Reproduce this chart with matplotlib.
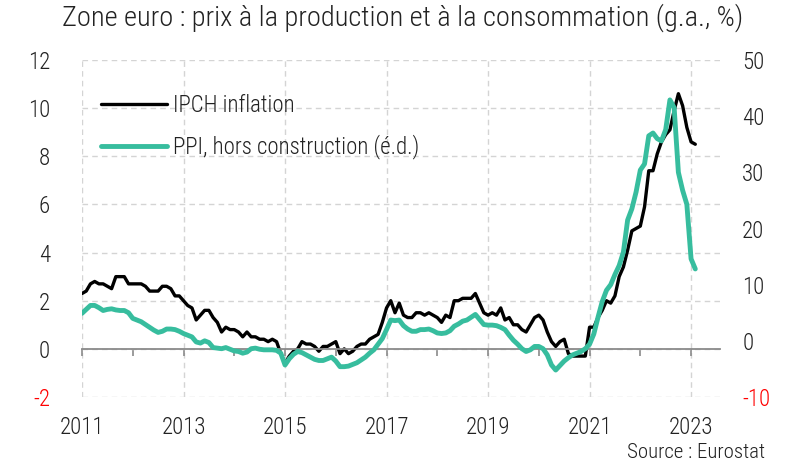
import matplotlib
matplotlib.use('Agg')
import matplotlib.pyplot as plt
from matplotlib.ticker import MultipleLocator, FixedLocator
import numpy as np

# monthly, Jan 2011 .. Feb 2023
start_year = 2011
ipch = [
    2.3, 2.4, 2.7, 2.8, 2.7, 2.7, 2.6, 2.5, 3.0, 3.0, 3.0, 2.7,
    2.7, 2.7, 2.7, 2.6, 2.4, 2.4, 2.4, 2.6, 2.6, 2.5, 2.2, 2.2,
    2.0, 1.8, 1.7, 1.2, 1.4, 1.6, 1.6, 1.3, 1.1, 0.7, 0.9, 0.8,
    0.8, 0.7, 0.5, 0.7, 0.5, 0.5, 0.4, 0.4, 0.3, 0.4, 0.3, -0.2,
    -0.6, -0.3, -0.1, 0.0, 0.3, 0.2, 0.2, 0.1, -0.1, 0.1, 0.1, 0.2,
    0.3, -0.2, 0.0, -0.2, -0.1, 0.1, 0.2, 0.2, 0.4, 0.5, 0.6, 1.1,
    1.7, 2.0, 1.5, 1.9, 1.4, 1.3, 1.3, 1.5, 1.5, 1.4, 1.5, 1.4,
    1.3, 1.1, 1.4, 1.3, 2.0, 2.0, 2.1, 2.1, 2.1, 2.3, 1.9, 1.5,
    1.4, 1.5, 1.4, 1.7, 1.2, 1.3, 1.0, 1.0, 0.8, 0.7, 1.0, 1.3,
    1.4, 1.2, 0.7, 0.3, 0.1, 0.3, 0.4, -0.2, -0.3, -0.3, -0.3, -0.3,
    0.9, 0.9, 1.3, 1.6, 2.0, 1.9, 2.2, 3.0, 3.4, 4.1, 4.9, 5.0,
    5.1, 5.9, 7.4, 7.4, 8.1, 8.6, 8.9, 9.1, 9.9, 10.6, 10.1, 9.2,
    8.6, 8.5,
]
ppi = [
    4.9, 5.6, 6.3, 6.3, 5.9, 5.4, 5.6, 5.7, 5.5, 5.4, 5.4, 5.0,
    4.0, 3.7, 3.4, 2.9, 2.4, 1.9, 1.5, 1.7, 2.1, 2.1, 2.0, 1.7,
    1.3, 1.0, 0.7, -0.2, -0.4, 0.0, -0.3, -1.2, -1.3, -1.4, -1.2, -1.5,
    -1.8, -1.9, -2.2, -2.0, -1.4, -1.3, -1.5, -1.6, -1.6, -1.6, -1.7, -2.2,
    -4.3, -3.2, -2.4, -1.9, -2.1, -2.5, -2.9, -3.3, -3.5, -3.5, -3.2, -2.9,
    -3.6, -4.6, -4.6, -4.5, -4.2, -3.9, -3.4, -2.9, -2.2, -1.6, -0.6, 0.4,
    2.0, 3.7, 3.6, 3.7, 2.7, 2.1, 1.7, 1.7, 2.0, 2.0, 2.1, 1.8,
    1.4, 1.3, 1.4, 1.8, 2.6, 3.0, 3.5, 3.7, 4.2, 4.7, 3.8, 2.9,
    2.8, 2.8, 2.7, 2.4, 2.0, 1.0, 0.1, -0.6, -1.4, -1.9, -1.6, -1.0,
    -1.0, -1.4, -2.5, -4.3, -5.2, -4.4, -3.6, -3.0, -2.5, -2.2, -1.9, -1.4,
    -0.6, 1.2, 4.2, 7.0, 9.0, 10.0, 11.8, 13.4, 15.8, 21.5, 23.5, 26.5,
    30.4, 31.5, 36.5, 37.0, 36.0, 35.6, 37.6, 42.9, 41.5, 30.0, 26.8, 24.3,
    14.6, 12.8,
]
x_labels = ['2011', '2013', '2015', '2017', '2019', '2021', '2023']
left_ticks = [-2, 0, 2, 4, 6, 8, 10, 12]
right_ticks = [-10, 0, 10, 20, 30, 40, 50]

title = 'Zone euro : prix à la production et à la consommation (g.a., %)'
label_ipch = 'IPCH inflation'
label_ppi = 'PPI, hors construction (é.d.)'
source = 'Source : Eurostat'

teal = '#37bd9e'
grid_c = '#d4d4d4'
axis_c = '#8a8a8a'
text_c = '#222222'

plt.rcParams['font.family'] = ['Roboto Condensed', 'Liberation Sans Narrow', 'DejaVu Sans']
plt.rcParams['font.stretch'] = 'condensed'
plt.rcParams['font.weight'] = 'light'
fs = 16.5

months = start_year + np.arange(len(ipch)) / 12.0

fig = plt.figure(figsize=(8.06, 4.62), dpi=100)
ax = fig.add_axes([82/806, 1-397/462, (720-82)/806, (397-60)/462])
ax2 = ax.twinx()

ax.plot(months, ipch, color='black', lw=2.4, solid_capstyle='round', label=label_ipch)
ax2.plot(months, ppi, color=teal, lw=3.5, solid_capstyle='round', label=label_ppi)

ax.set_xlim(2011, 2023.57)
ax.set_ylim(-2, 12)
ax2.set_ylim(-10, 50)

for s in ['top', 'right', 'left']:
    ax.spines[s].set_visible(False)
    ax2.spines[s].set_visible(False)
ax2.spines['bottom'].set_visible(False)
ax.spines['bottom'].set_position(('data', 0))
ax.spines['bottom'].set_color(axis_c)
ax.spines['bottom'].set_linewidth(1.3)

year_ticks = [int(v) for v in x_labels]
ax.xaxis.set_major_locator(FixedLocator(year_ticks))
ax.xaxis.set_minor_locator(MultipleLocator(1))
ax.tick_params(axis='x', which='both', direction='out', length=5, width=1.2,
               color=axis_c, labelbottom=False)
ax.grid(axis='x', which='major', color=grid_c, ls=(0, (4, 3)), lw=1)
ax.grid(axis='y', color=grid_c, ls=(0, (4, 3)), lw=1)
ax.set_axisbelow(True)

sec = ax.secondary_xaxis('bottom')
sec.spines['bottom'].set_visible(False)
sec.set_xticks(year_ticks)
sec.set_xticklabels(x_labels)
sec.tick_params(length=0, pad=14, labelsize=fs, labelcolor=text_c)

ax.set_yticks(left_ticks)
ax.set_yticklabels([str(v) for v in left_ticks])
ax.tick_params(axis='y', length=0, pad=23, labelsize=fs, labelcolor=text_c)
ax2.set_yticks(right_ticks)
ax2.set_yticklabels([str(v) for v in right_ticks])
ax2.tick_params(axis='y', length=0, pad=16, labelsize=fs, labelcolor=text_c)
ax.get_yticklabels()[0].set_color('red')
ax2.get_yticklabels()[0].set_color('red')

h1, l1 = ax.get_legend_handles_labels()
h2, l2 = ax2.get_legend_handles_labels()
leg = ax2.legend(h1 + h2, l1 + l2, loc='upper left', bbox_to_anchor=(0.015, 0.925),
                 frameon=False, fontsize=fs, handlelength=2.9, handletextpad=0.25,
                 labelspacing=0.75, borderaxespad=0)
for t in leg.get_texts():
    t.set_color(text_c)

fig.text(0.5, 1-18/462, title, ha='center', va='center', fontsize=20.5, color=text_c)
fig.text(765/806, 1-452/462, source, ha='right', va='center', fontsize=15, color=text_c)

fig.savefig('out.png', dpi=100)
